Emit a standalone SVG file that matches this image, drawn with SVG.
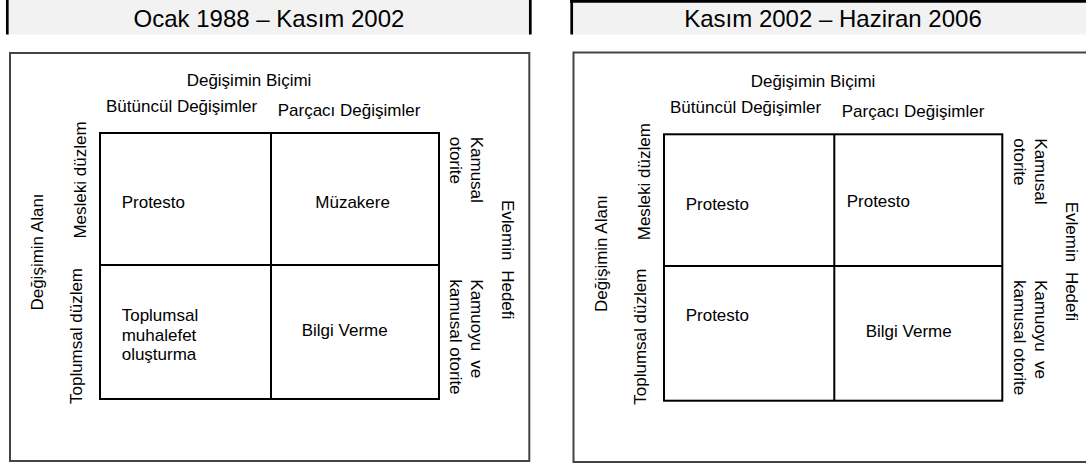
<svg xmlns="http://www.w3.org/2000/svg" width="1086" height="464" viewBox="0 0 1086 464">
<style>
.hdr{fill:#f2f2f2;stroke:none}
.bar{stroke:#000;stroke-width:2.7;fill:none}
.frame{fill:#fff;stroke:#444;stroke-width:2}
.grid{fill:none;stroke:#000;stroke-width:2}
text{font-family:"Liberation Sans",Arial,Helvetica,sans-serif;fill:#000}
.t{font-size:17px}
.h{font-size:24px;text-anchor:middle}
.m{text-anchor:middle}
</style>
<rect width="1086" height="464" fill="#fff"/>

<g id="panel1">
  <g id="header1">
    <rect class="hdr" x="8" y="0" width="522" height="34.5"/>
    <line class="bar" x1="7.3" y1="0" x2="7.3" y2="34.5"/>
    <line class="bar" x1="530.3" y1="0" x2="530.3" y2="34.5"/>
    <text class="h" x="269" y="26.5">Ocak 1988 – Kasım 2002</text>
  </g>
  <rect class="frame" x="10" y="53" width="519.3" height="408"/>
  <g id="grid1">
    <rect class="grid" x="100" y="133" width="339" height="266"/>
    <line class="grid" x1="271" y1="133" x2="271" y2="399"/>
    <line class="grid" x1="100" y1="265" x2="439" y2="265"/>
  </g>
  <g id="labels1" class="t">
    <text class="t m" x="249" y="86">Değişimin Biçimi</text>
    <text class="t" x="106" y="112">Bütüncül Değişimler</text>
    <text class="t" x="277.7" y="116">Parçacı Değişimler</text>
    <text class="t m" transform="translate(43,252) rotate(-90)">Değişimin Alanı</text>
    <text class="t m" transform="translate(86,180) rotate(-90)">Mesleki düzlem</text>
    <text class="t m" transform="translate(82,336) rotate(-90)">Toplumsal düzlem</text>
    <text class="t" transform="translate(470.7,136.7) rotate(90)"><tspan x="0" y="0">Kamusal</tspan><tspan x="0" y="21">otorite</tspan></text>
    <text class="t" transform="translate(501.7,200) rotate(90)">Evlemin <tspan dx="5">Hedefi</tspan></text>
    <text class="t" transform="translate(470.5,279.3) rotate(90)"><tspan x="0" y="0">Kamuoyu <tspan dx="4.5">ve</tspan></tspan><tspan x="0" y="21">kamusal otorite</tspan></text>
  </g>
  <g id="cells1">
    <text class="t" x="121.7" y="208">Protesto</text>
    <text class="t" x="315.3" y="208">Müzakere</text>
    <text class="t" x="121.7" y="321"><tspan x="121.7" y="321">Toplumsal</tspan><tspan x="121.7" y="340.5">muhalefet</tspan><tspan x="121.7" y="360">oluşturma</tspan></text>
    <text class="t" x="301.7" y="336">Bilgi Verme</text>
  </g>
</g>

<g id="panel2">
  <g id="header2">
    <rect class="hdr" x="572" y="0" width="514" height="34.5"/>
    <line class="bar" x1="570" y1="1.3" x2="1086" y2="1.3"/>
    <line class="bar" x1="571.7" y1="0" x2="571.7" y2="34.5"/>
    <text class="h" x="833" y="26.5">Kasım 2002 – Haziran 2006</text>
  </g>
  <rect class="frame" x="573.5" y="52.5" width="530" height="409.5"/>
  <g id="grid2">
    <rect class="grid" x="664" y="134.3" width="338.3" height="266.4"/>
    <line class="grid" x1="834.3" y1="134.3" x2="834.3" y2="400.7"/>
    <line class="grid" x1="664" y1="266" x2="1002.3" y2="266"/>
  </g>
  <g id="labels2">
    <text class="t m" x="813" y="87">Değişimin Biçimi</text>
    <text class="t" x="670" y="112.5">Bütüncül Değişimler</text>
    <text class="t" x="841.7" y="117">Parçacı Değişimler</text>
    <text class="t m" transform="translate(607,253.5) rotate(-90)">Değişimin Alanı</text>
    <text class="t m" transform="translate(649.5,181.7) rotate(-90)">Mesleki düzlem</text>
    <text class="t m" transform="translate(646,336.7) rotate(-90)">Toplumsal düzlem</text>
    <text class="t" transform="translate(1035,138.3) rotate(90)"><tspan x="0" y="0">Kamusal</tspan><tspan x="0" y="20.7">otorite</tspan></text>
    <text class="t" transform="translate(1065.7,201.7) rotate(90)">Evlemin <tspan dx="5">Hedefi</tspan></text>
    <text class="t" transform="translate(1035,280) rotate(90)"><tspan x="0" y="0">Kamuoyu <tspan dx="4.5">ve</tspan></tspan><tspan x="0" y="20.7">kamusal otorite</tspan></text>
  </g>
  <g id="cells2">
    <text class="t" x="685.7" y="210">Protesto</text>
    <text class="t" x="846.7" y="206.7">Protesto</text>
    <text class="t" x="685.7" y="320.7">Protesto</text>
    <text class="t" x="865.7" y="337.3">Bilgi Verme</text>
  </g>
</g>
</svg>
